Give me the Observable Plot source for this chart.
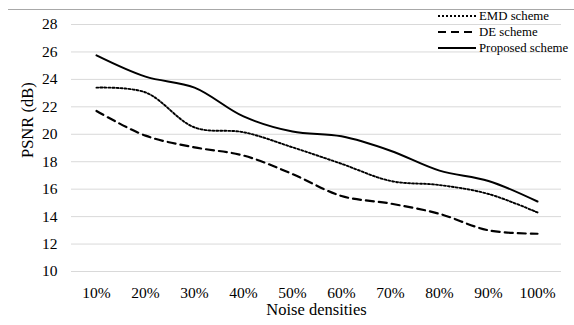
<!DOCTYPE html>
<html>
<head>
<meta charset="utf-8">
<script src="https://cdn.jsdelivr.net/npm/d3@7"></script>
<script src="https://cdn.jsdelivr.net/npm/@observablehq/plot@0.6"></script>
<style>
  body { margin: 0; background: #fff; }
  #wrap { position: relative; width: 574px; height: 325px; overflow: hidden; background: #fff; font-family: "Liberation Serif", "Times New Roman", serif; }
  #toprule { position: absolute; left: 8px; right: 0; top: 9px; height: 0; border-top: 1px solid #a8a8a8; }
  #chart { position: absolute; left: 0; top: 0; }
  #legend { position: absolute; left: 438px; top: 8px; font-size: 12.8px; color: #000; }
  .row { display: flex; align-items: center; height: 16px; white-space: nowrap; }
  .row svg { margin-right: 3px; }
</style>
</head>
<body>
<div id="wrap">
  <div id="toprule"></div>
  <div id="chart"></div>
  <div id="legend"></div>
</div>
<script>
const categories = ["10%", "20%", "30%", "40%", "50%", "60%", "70%", "80%", "90%", "100%"];
const emd = [23.4, 23.05, 20.5, 20.15, 19.05, 17.85, 16.6, 16.3, 15.65, 14.3];
const de = [21.7, 19.9, 19.05, 18.45, 17.1, 15.5, 14.95, 14.2, 13.0, 12.75];
const proposed = [25.75, 24.2, 23.4, 21.3, 20.2, 19.85, 18.8, 17.35, 16.6, 15.1];
const yTicks = [10, 12, 14, 16, 18, 20, 22, 24, 26, 28];
const seriesNames = ["EMD scheme", "DE scheme", "Proposed scheme"];
const seriesDash = ["2 2", "8 5", null];
const seriesWidth = [1.9, 2.2, 2];

const toRows = (vals) => categories.map((c, i) => ({x: c, y: vals[i]}));
const seriesVals = [emd, de, proposed];

const lineMarks = seriesVals.map((vals, k) =>
  Plot.line(toRows(vals), {
    x: "x", y: "y", curve: "catmull-rom",
    stroke: "#000", strokeWidth: seriesWidth[k],
    strokeDasharray: seriesDash[k] || undefined
  })
);

const chart = Plot.plot({
  width: 574,
  height: 325,
  marginLeft: 71,
  marginRight: 13,
  marginTop: 24,
  marginBottom: 54,
  style: {background: "transparent", fontFamily: "'Liberation Serif', 'Times New Roman', serif", fontSize: "15.5px", color: "#000"},
  x: {type: "point", domain: categories, padding: 0.5},
  y: {domain: [10, 28]},
  marks: [
    Plot.gridY(yTicks, {stroke: "#d9d9d9", strokeOpacity: 1, strokeWidth: 1}),
    Plot.axisY(yTicks, {tickSize: 0, tickPadding: 14, label: null, fontSize: 15.5}),
    Plot.axisX({tickSize: 0, tickPadding: 15, label: null, fontSize: 15.5}),
    Plot.text(["PSNR (dB)"], {frameAnchor: "left", dx: -44, dy: 10, rotate: -90, fontSize: 16.5, fill: "#000"}),
    Plot.text(["Noise densities"], {frameAnchor: "bottom", dy: 43, fontSize: 16.5, fill: "#000"}),
    ...lineMarks
  ]
});
document.getElementById("chart").appendChild(chart);

const legend = document.getElementById("legend");
seriesNames.forEach((name, k) => {
  const row = document.createElement("div");
  row.className = "row";
  const dash = seriesDash[k] ? ` stroke-dasharray="${seriesDash[k]}"` : "";
  row.innerHTML = `<svg width="38" height="6"><line x1="0" x2="38" y1="3" y2="3" stroke="#000" stroke-width="${seriesWidth[k]}"${dash}/></svg><span>${name}</span>`;
  legend.appendChild(row);
});
</script>
</body>
</html>
